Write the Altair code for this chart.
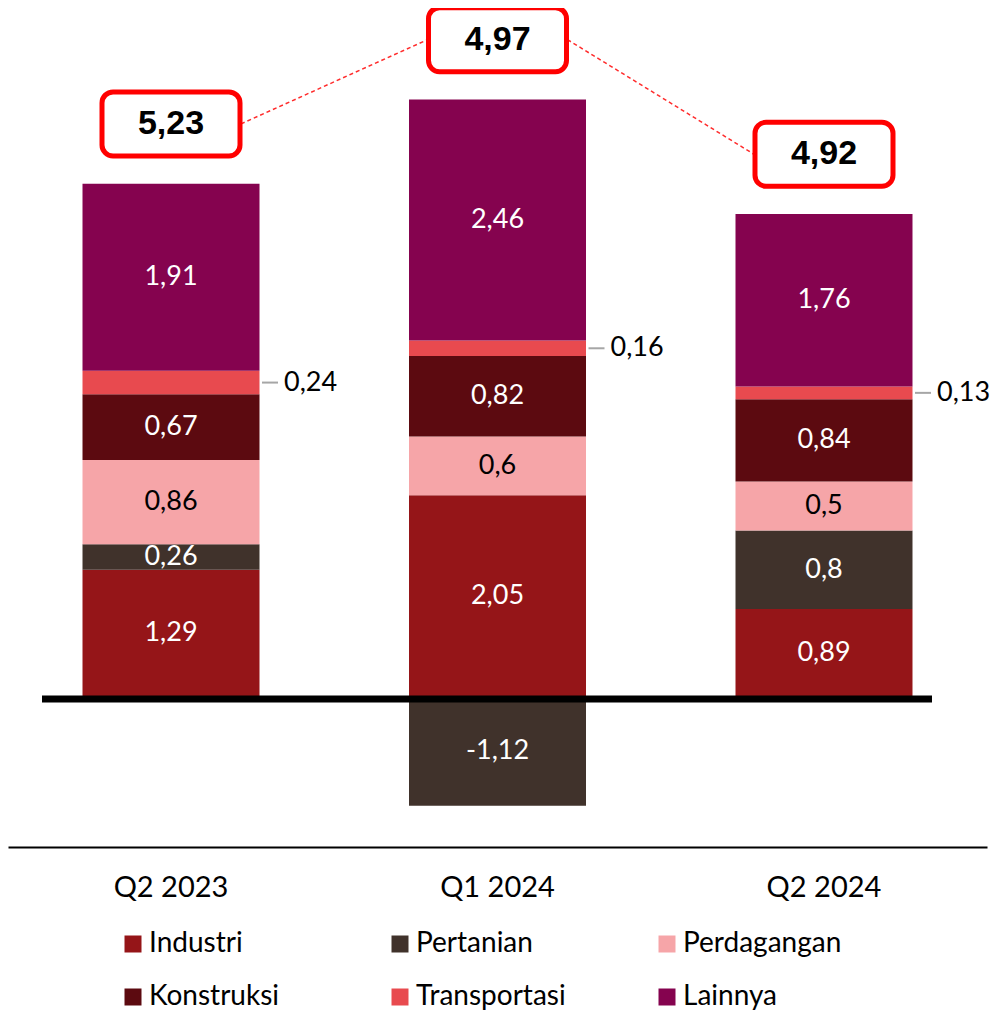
import altair as alt
import pandas as pd

periods = ["Q2 2023", "Q1 2024", "Q2 2024"]
sectors = ["Industri", "Pertanian", "Perdagangan", "Konstruksi", "Transportasi", "Lainnya"]
industri = [1.29, 2.05, 0.89]
pertanian = [0.26, -1.12, 0.80]
perdagangan = [0.86, 0.60, 0.50]
konstruksi = [0.67, 0.82, 0.84]
transportasi = [0.24, 0.16, 0.13]
lainnya = [1.91, 2.46, 1.76]
totals = [5.23, 4.97, 4.92]
colors = ["#951518", "#40322b", "#f6a5a8", "#5c0a10", "#e84a4f", "#85034f"]

series = [industri, pertanian, perdagangan, konstruksi, transportasi, lainnya]


def fmt(v):
    return f"{v:g}".replace(".", ",")


rows = []
tops = []
for pi_, p in enumerate(periods):
    pos = 0.0
    neg = 0.0
    for si, s in enumerate(sectors):
        v = series[si][pi_]
        if v >= 0:
            lo, hi = pos, pos + v
            pos = hi
        else:
            lo, hi = neg + v, neg
            neg = lo
        rows.append(dict(period=p, sector=s, value=v, lo=lo, hi=hi,
                         mid=(lo + hi) / 2, label=fmt(v)))
    tops.append(pos)
df = pd.DataFrame(rows)

BOX_GAP = 0.61
tot = pd.DataFrame(dict(period=periods, total=totals,
                        box=[t + BOX_GAP for t in tops],
                        label=[fmt(t) for t in totals]))
links = pd.DataFrame(dict(period=periods[:-1], period2=periods[1:],
                          b1=list(tot["box"][:-1]), b2=list(tot["box"][1:])))
zero = pd.DataFrame(dict(period=[periods[0]], period2=[periods[-1]], y=[0.0]))

FONT = "Lato"
yscale = alt.Scale(domain=[-1.54, 7.023], nice=False, zero=False)
xenc = alt.X("period:N", sort=periods,
             scale=alt.Scale(paddingInner=0.4579, paddingOuter=0.2282),
             axis=alt.Axis(title=None, labelAngle=0, ticks=False, domainColor="#000000",
                           domainWidth=2, labelFontSize=29, labelFont=FONT,
                           labelColor="#000000", labelPadding=26, grid=False))

bars = alt.Chart(df).mark_bar().encode(
    x=xenc,
    y=alt.Y("lo:Q", scale=yscale, axis=None),
    y2="hi:Q",
    color=alt.Color("sector:N", sort=sectors,
                    scale=alt.Scale(domain=sectors, range=colors),
                    legend=alt.Legend(title=None, orient="none", legendX=111, legendY=922,
                                      direction="horizontal",
                                      columns=3, symbolType="square", symbolSize=289,
                                      symbolStrokeWidth=0, labelFont=FONT, labelFontSize=28,
                                      labelColor="#000000", labelOffset=2, columnPadding=78,
                                      rowPadding=25, gridAlign="all", padding=0,
                                      labelLimit=400)),
)

zline = alt.Chart(zero).mark_rule(color="#000000", strokeWidth=7, xOffset=-129,
                                  x2Offset=108, yOffset=3).encode(
    x=xenc, x2="period2:N", y=alt.Y("y:Q", scale=yscale, axis=None))

inside = alt.Chart(df).transform_filter(alt.datum.sector != "Transportasi").mark_text(
    font=FONT, fontSize=27, baseline="middle").encode(
    x=xenc, y=alt.Y("mid:Q", scale=yscale, axis=None), text="label:N",
    color=alt.condition(alt.datum.sector == "Perdagangan", alt.value("#000000"),
                        alt.value("#ffffff")))

small = df[df.sector == "Transportasi"]
leaders = alt.Chart(small).mark_rule(color="#a6a6a6", strokeWidth=2, xOffset=91,
                                     x2Offset=107).encode(
    x=xenc, x2="period:N", y=alt.Y("mid:Q", scale=yscale, axis=None))
outside = alt.Chart(small).mark_text(font=FONT, fontSize=27, align="left",
                                     baseline="middle", dx=113, color="#000000").encode(
    x=xenc, y=alt.Y("mid:Q", scale=yscale, axis=None), text="label:N")

dashes = alt.Chart(links).mark_rule(color="#ff2b2b", strokeWidth=1.5, strokeDash=[4, 3],
                                    xOffset=70, x2Offset=-70).encode(
    x=xenc, x2="period2:N", y=alt.Y("b1:Q", scale=yscale, axis=None), y2="b2:Q")

box_path = ("M -1.68 -0.928 L 1.68 -0.928 A 0.32 0.32 0 0 1 2 -0.608 L 2 0.608 "
            "A 0.32 0.32 0 0 1 1.68 0.928 L -1.68 0.928 A 0.32 0.32 0 0 1 -2 0.608 "
            "L -2 -0.608 A 0.32 0.32 0 0 1 -1.68 -0.928 Z")
boxes = alt.Chart(tot).mark_point(shape=box_path, size=69 * 69, filled=True,
                                  fill="#ffffff", stroke="#ff0000", strokeWidth=5,
                                  opacity=1, fillOpacity=1).encode(
    x=xenc, y=alt.Y("box:Q", scale=yscale, axis=None))
tot_text = alt.Chart(tot).mark_text(font="Liberation Sans", fontWeight="bold",
                                    fontSize=34, color="#000000",
                                    baseline="middle").encode(
    x=xenc, y=alt.Y("box:Q", scale=yscale, axis=None), text="label:N")

chart = alt.layer(bars, zline, leaders, outside, inside, dashes, boxes, tot_text).properties(
    width=979, height=839, background="#ffffff",
    padding={"left": 0, "top": 0, "right": 4, "bottom": 165},
    autosize=alt.AutoSizeParams(type="none"),
).configure_view(stroke=None)

chart.save("out.html", embed_options={"renderer": "svg", "actions": False})
